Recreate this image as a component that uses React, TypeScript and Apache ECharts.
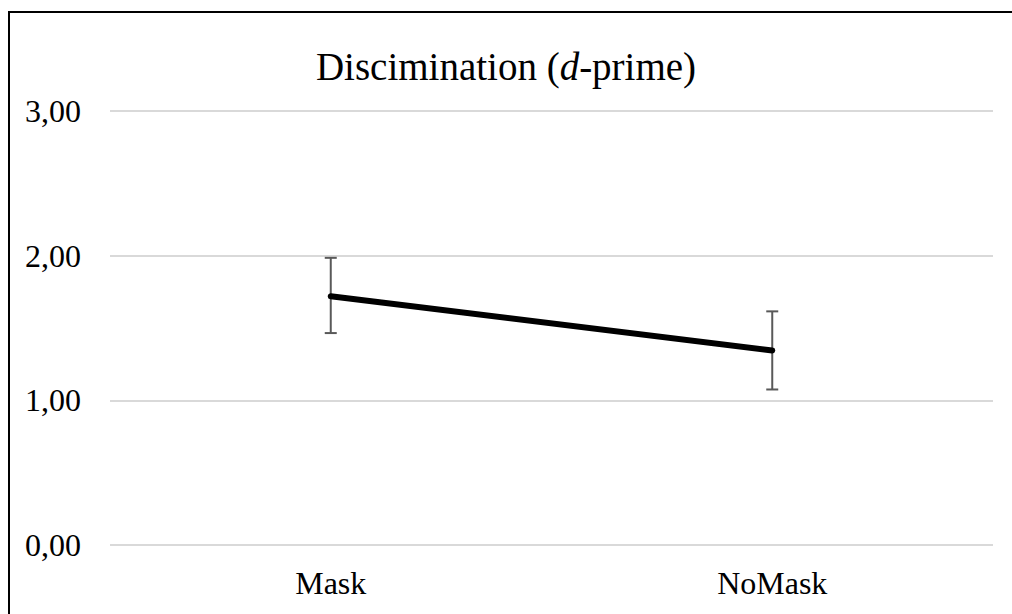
import React, { useEffect, useRef } from "react";
import * as echarts from "echarts";

const categories = ["Mask", "NoMask"];
const dprime = [1.72, 1.345];
const errLow = [1.465, 1.075];
const errHigh = [1.985, 1.615];
const yTicks = [0, 1, 2, 3];

const FONT = "'Liberation Serif', 'Times New Roman', serif";

export default function App() {
  const ref = useRef<HTMLDivElement>(null);
  useEffect(() => {
    document.body.style.margin = "0";
    const chart = echarts.init(ref.current!, null, { renderer: "svg" });
    chart.setOption({
      animation: false,
      backgroundColor: "#ffffff",
      title: {
        text: "Discimination ({i|d}-prime)",
        left: "center",
        top: 42,
        textStyle: {
          fontFamily: FONT,
          fontSize: 39,
          fontWeight: "normal",
          color: "#000",
          rich: {
            i: { fontFamily: FONT, fontSize: 39, fontStyle: "italic", color: "#000" },
          },
        },
      },
      graphic: [
        {
          type: "rect",
          shape: { x: 9, y: 12, width: 1100, height: 700 },
          style: { fill: "none", stroke: "#000", lineWidth: 2 },
          silent: true,
        },
      ],
      grid: { left: 110, right: 19, top: 111, bottom: 69, containLabel: false },
      xAxis: {
        type: "category",
        data: categories,
        boundaryGap: true,
        axisLine: { show: false },
        axisTick: { show: false },
        axisLabel: {
          fontFamily: FONT,
          fontSize: 32,
          color: "#000",
          margin: 22,
        },
      },
      yAxis: {
        type: "value",
        min: yTicks[0],
        max: yTicks[yTicks.length - 1],
        interval: 1,
        axisLine: { show: false },
        axisTick: { show: false },
        splitLine: { lineStyle: { color: "#d9d9d9", width: 2 } },
        axisLabel: {
          fontFamily: FONT,
          fontSize: 32,
          color: "#000",
          margin: 29,
          formatter: (v: number) => v.toFixed(2).replace(".", ","),
        },
      },
      series: [
        {
          type: "custom",
          z: 1,
          data: categories.map((_, i) => [i, errLow[i], errHigh[i]]),
          renderItem: (params: any, api: any) => {
            const x = api.value(0);
            const lo = api.coord([x, api.value(1)]);
            const hi = api.coord([x, api.value(2)]);
            const hw = 6;
            const style = { stroke: "#595959", lineWidth: 2 };
            return {
              type: "group",
              children: [
                { type: "line", shape: { x1: lo[0], y1: lo[1], x2: hi[0], y2: hi[1] }, style },
                { type: "line", shape: { x1: lo[0] - hw, y1: lo[1], x2: lo[0] + hw, y2: lo[1] }, style },
                { type: "line", shape: { x1: hi[0] - hw, y1: hi[1], x2: hi[0] + hw, y2: hi[1] }, style },
              ],
            };
          },
        },
        {
          type: "line",
          z: 3,
          data: dprime,
          symbol: "none",
          lineStyle: { color: "#000", width: 6, cap: "round" },
        },
      ],
    });
    return () => chart.dispose();
  }, []);
  return <div ref={ref} style={{ width: 1012, height: 614 }} />;
}
